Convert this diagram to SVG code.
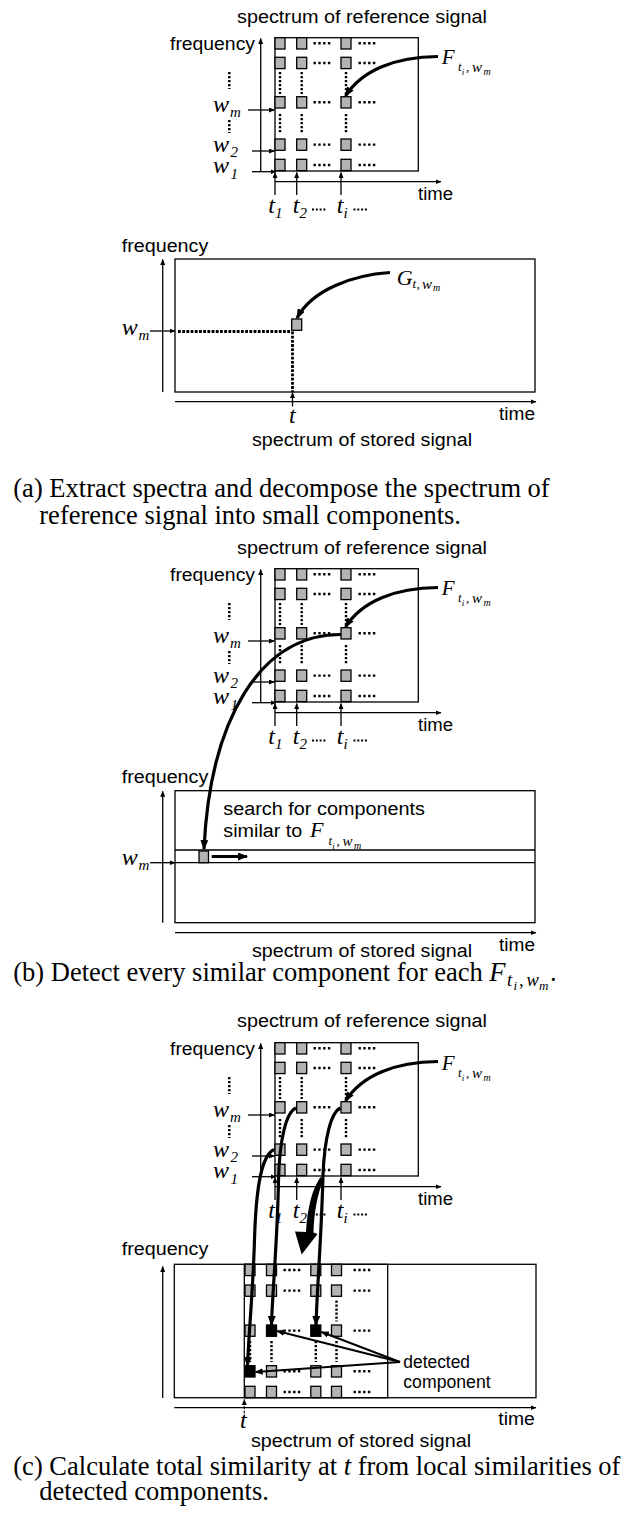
<svg xmlns="http://www.w3.org/2000/svg" width="639" height="1521" viewBox="0 0 639 1521">
<defs>
<style>
.s{font-family:"Liberation Sans",Arial,sans-serif;font-size:18px;fill:#000}
.m{font-family:"Liberation Serif","Times New Roman",serif;font-style:italic;fill:#000}
.cap{font-family:"Liberation Serif","Times New Roman",serif;font-size:26.5px;fill:#000}
.box{fill:none;stroke:#000;stroke-width:1.3}
.sq{fill:#b3b3b3;stroke:#000;stroke-width:1.3}
.sqb{fill:#000;stroke:#000;stroke-width:1.3}
.hd{stroke:#000;stroke-width:2.4;stroke-dasharray:2.4 2.4;fill:none}
.vd{stroke:#000;stroke-width:2.4;stroke-dasharray:2.2 1.8;fill:none}
.td{stroke:#000;stroke-width:2;stroke-dasharray:2 1.8;fill:none}
.ax{stroke:#000;stroke-width:1.3;fill:none;marker-end:url(#ah)}
.cv{stroke:#000;stroke-width:3.2;fill:none;marker-end:url(#bh)}
.dl{stroke:#000;stroke-width:2;fill:none;marker-end:url(#mh)}
.pd{stroke:#000;stroke-width:2.8;stroke-dasharray:2.8 1.4;fill:none}
.tk{fill:#000;stroke:none}
</style>
<marker id="ah" viewBox="0 0 12 10" refX="11" refY="5" markerWidth="6" markerHeight="5" markerUnits="userSpaceOnUse" orient="auto"><path d="M0,0 L12,5 L0,10 z"/></marker>
<marker id="bh" viewBox="0 0 10 8" refX="9" refY="4" markerWidth="10" markerHeight="8" markerUnits="userSpaceOnUse" orient="auto"><path d="M0,0 L10,4 L0,8 z"/></marker>
<marker id="mh" viewBox="0 0 10 8" refX="9" refY="4" markerWidth="8" markerHeight="6.4" markerUnits="userSpaceOnUse" orient="auto"><path d="M0,0 L10,4 L0,8 z"/></marker>
</defs>
<rect width="639" height="1521" fill="#fff"/>

<!-- ===== Reference spectrum panel (a) ===== -->
<g id="ref-a">
<text class="s" x="237" y="23" textLength="250" lengthAdjust="spacingAndGlyphs">spectrum of reference signal</text>
<text class="s" x="170" y="50" textLength="85" lengthAdjust="spacingAndGlyphs">frequency</text>
<rect class="box" x="275" y="37.7" width="143.3" height="133.3"/>
<rect class="sq" x="275" y="37.7" width="10" height="11.3"/><rect class="sq" x="296.7" y="37.7" width="10" height="11.3"/><rect class="sq" x="341" y="37.7" width="10" height="11.3"/>
<rect class="sq" x="275" y="57.3" width="10" height="11.3"/><rect class="sq" x="296.7" y="57.3" width="10" height="11.3"/><rect class="sq" x="341" y="57.3" width="10" height="11.3"/>
<rect class="sq" x="275" y="96.7" width="10" height="11.3"/><rect class="sq" x="296.7" y="96.7" width="10" height="11.3"/><rect class="sq" x="341" y="96.7" width="10" height="11.3"/>
<rect class="sq" x="275" y="139" width="10" height="11.3"/><rect class="sq" x="296.7" y="139" width="10" height="11.3"/><rect class="sq" x="341" y="139" width="10" height="11.3"/>
<rect class="sq" x="275" y="159.3" width="10" height="11.3"/><rect class="sq" x="296.7" y="159.3" width="10" height="11.3"/><rect class="sq" x="341" y="159.3" width="10" height="11.3"/>
<path class="hd" d="M313.5 43.3H332M358.5 43.3H377M313.5 63H332M358.5 63H377M313.5 102.3H332M358.5 102.3H377M313.5 144.6H332M358.5 144.6H377M313.5 165H332M358.5 165H377"/>
<path class="vd" d="M280 72V94M301.7 72V94M346 72V94M280 114V134M301.7 114V134M346 114V134M229.3 72V89M229.3 120V133"/>
<path class="ax" d="M260.7 172V38.5"/>
<path class="ax" d="M275 181.7H441"/>
<path class="ax" d="M248 110H274.5"/>
<path class="ax" d="M252 151H274.5"/>
<path class="ax" d="M252 171.7H276"/>
<path class="ax" d="M275 195V172.5"/>
<path class="ax" d="M296.7 195V172.5"/>
<path class="ax" d="M341 195V172.5"/>
<text class="s" x="418" y="200" textLength="35" lengthAdjust="spacingAndGlyphs">time</text>
<text class="m"><tspan x="213" y="111.7" font-size="24">w</tspan><tspan x="230" y="116.5" font-size="15">m</tspan></text>
<text class="m"><tspan x="213" y="151.5" font-size="24">w</tspan><tspan x="230.5" y="156.5" font-size="15">2</tspan></text>
<text class="m"><tspan x="213" y="173" font-size="24">w</tspan><tspan x="230.5" y="179" font-size="15">1</tspan></text>
<text class="m"><tspan x="268.3" y="213.3" font-size="24">t</tspan><tspan x="275" y="218.3" font-size="15">1</tspan></text>
<text class="m"><tspan x="292.7" y="213.3" font-size="24">t</tspan><tspan x="299.4" y="218.3" font-size="15">2</tspan></text>
<text class="m"><tspan x="336.7" y="213.3" font-size="24">t</tspan><tspan x="343.4" y="218.3" font-size="15">i</tspan></text>
<path class="td" d="M312 209.5H327M353.5 209.5H368.5"/>
<text class="m"><tspan x="441.7" y="64" font-size="21">F</tspan><tspan x="458" y="71" font-size="13">t</tspan><tspan x="461.8" y="74.5" font-size="9">i</tspan><tspan x="466" y="71" font-size="13">,</tspan><tspan x="472" y="71.5" font-size="15">w</tspan><tspan x="483.5" y="74.5" font-size="10">m</tspan></text>
</g>

<!-- ===== Stored spectrum panel (a) ===== -->
<g id="stored-a">
<text class="s" x="121.7" y="251.7" textLength="86.6" lengthAdjust="spacingAndGlyphs">frequency</text>
<path class="ax" d="M162.7 392V259.5"/>
<rect class="box" x="175" y="259" width="360" height="133"/>
<path class="ax" d="M175 401.7H536"/>
<text class="s" x="499" y="420" textLength="36" lengthAdjust="spacingAndGlyphs">time</text>
<text class="m"><tspan x="121.7" y="335" font-size="24">w</tspan><tspan x="138.5" y="339.5" font-size="15">m</tspan></text>
<path class="ax" d="M150 331H175"/>
<path class="pd" d="M178 331.5H291.7M292.5 331.5V392"/>
<rect class="sq" x="291.7" y="319" width="10" height="11.3"/>
<path class="ax" d="M292.5 406.5V392.5"/>
<text class="m" x="289" y="423" font-size="24">t</text>
<text class="m"><tspan x="396.7" y="285" font-size="22">G</tspan><tspan x="412.5" y="288" font-size="13">t</tspan><tspan x="416.5" y="288" font-size="13">,</tspan><tspan x="422" y="288.5" font-size="15">w</tspan><tspan x="433" y="291" font-size="10">m</tspan></text>
<text class="s" x="252" y="446" textLength="220" lengthAdjust="spacingAndGlyphs">spectrum of stored signal</text>
</g>

<g id="caption-a">
<text class="cap" x="13.3" y="497">(a) Extract spectra and decompose the spectrum of</text>
<text class="cap" x="39.3" y="524">reference signal into small components.</text>
</g>

<!-- ===== Reference spectrum panel (b) ===== -->
<g id="ref-b" transform="translate(0,531)">
<text class="s" x="237" y="23" textLength="250" lengthAdjust="spacingAndGlyphs">spectrum of reference signal</text>
<text class="s" x="170" y="50" textLength="85" lengthAdjust="spacingAndGlyphs">frequency</text>
<rect class="box" x="275" y="37.7" width="143.3" height="133.3"/>
<rect class="sq" x="275" y="37.7" width="10" height="11.3"/><rect class="sq" x="296.7" y="37.7" width="10" height="11.3"/><rect class="sq" x="341" y="37.7" width="10" height="11.3"/>
<rect class="sq" x="275" y="57.3" width="10" height="11.3"/><rect class="sq" x="296.7" y="57.3" width="10" height="11.3"/><rect class="sq" x="341" y="57.3" width="10" height="11.3"/>
<rect class="sq" x="275" y="96.7" width="10" height="11.3"/><rect class="sq" x="296.7" y="96.7" width="10" height="11.3"/><rect class="sq" x="341" y="96.7" width="10" height="11.3"/>
<rect class="sq" x="275" y="139" width="10" height="11.3"/><rect class="sq" x="296.7" y="139" width="10" height="11.3"/><rect class="sq" x="341" y="139" width="10" height="11.3"/>
<rect class="sq" x="275" y="159.3" width="10" height="11.3"/><rect class="sq" x="296.7" y="159.3" width="10" height="11.3"/><rect class="sq" x="341" y="159.3" width="10" height="11.3"/>
<path class="hd" d="M313.5 43.3H332M358.5 43.3H377M313.5 63H332M358.5 63H377M313.5 102.3H332M358.5 102.3H377M313.5 144.6H332M358.5 144.6H377M313.5 165H332M358.5 165H377"/>
<path class="vd" d="M280 72V94M301.7 72V94M346 72V94M280 114V134M301.7 114V134M346 114V134M229.3 72V89M229.3 120V133"/>
<path class="ax" d="M260.7 172V38.5"/>
<path class="ax" d="M275 181.7H441"/>
<path class="ax" d="M248 110H274.5"/>
<path class="ax" d="M252 151H274.5"/>
<path class="ax" d="M252 171.7H276"/>
<path class="ax" d="M275 195V172.5"/>
<path class="ax" d="M296.7 195V172.5"/>
<path class="ax" d="M341 195V172.5"/>
<text class="s" x="418" y="200" textLength="35" lengthAdjust="spacingAndGlyphs">time</text>
<text class="m"><tspan x="213" y="111.7" font-size="24">w</tspan><tspan x="230" y="116.5" font-size="15">m</tspan></text>
<text class="m"><tspan x="213" y="151.5" font-size="24">w</tspan><tspan x="230.5" y="156.5" font-size="15">2</tspan></text>
<text class="m"><tspan x="213" y="173" font-size="24">w</tspan><tspan x="230.5" y="179" font-size="15">1</tspan></text>
<text class="m"><tspan x="268.3" y="213.3" font-size="24">t</tspan><tspan x="275" y="218.3" font-size="15">1</tspan></text>
<text class="m"><tspan x="292.7" y="213.3" font-size="24">t</tspan><tspan x="299.4" y="218.3" font-size="15">2</tspan></text>
<text class="m"><tspan x="336.7" y="213.3" font-size="24">t</tspan><tspan x="343.4" y="218.3" font-size="15">i</tspan></text>
<path class="td" d="M312 209.5H327M353.5 209.5H368.5"/>
<text class="m"><tspan x="441.7" y="64" font-size="21">F</tspan><tspan x="458" y="71" font-size="13">t</tspan><tspan x="461.8" y="74.5" font-size="9">i</tspan><tspan x="466" y="71" font-size="13">,</tspan><tspan x="472" y="71.5" font-size="15">w</tspan><tspan x="483.5" y="74.5" font-size="10">m</tspan></text>
</g>

<!-- ===== Stored spectrum panel (b) ===== -->
<g id="stored-b">
<text class="s" x="121.7" y="783.3" textLength="86.6" lengthAdjust="spacingAndGlyphs">frequency</text>
<path class="ax" d="M162.7 922.7V791.2"/>
<rect class="box" x="175" y="790.7" width="360" height="132"/>
<path class="box" d="M175 850H535M175 862.7H535"/>
<rect class="sq" x="199" y="851" width="9.5" height="11.7"/>
<text class="m"><tspan x="121.7" y="865" font-size="24">w</tspan><tspan x="138.5" y="869.5" font-size="15">m</tspan></text>
<path class="ax" d="M150 862.7H175"/>
<text class="s" x="223.3" y="815" textLength="201.7" lengthAdjust="spacingAndGlyphs">search for components</text>
<text class="s" x="223.3" y="836.7" textLength="79" lengthAdjust="spacingAndGlyphs">similar to</text>
<text class="m"><tspan x="310" y="836.7" font-size="22">F</tspan><tspan x="328.5" y="845" font-size="13">t</tspan><tspan x="332.3" y="848.5" font-size="9">i</tspan><tspan x="336.5" y="845" font-size="13">,</tspan><tspan x="342.5" y="845.5" font-size="15">w</tspan><tspan x="354" y="848.5" font-size="10">m</tspan></text>
<path class="ax" d="M175 932.7H536"/>
<text class="s" x="499" y="950.5" textLength="36" lengthAdjust="spacingAndGlyphs">time</text>
<text class="s" x="252" y="956.5" textLength="220" lengthAdjust="spacingAndGlyphs">spectrum of stored signal</text>
</g>

<g id="caption-b">
<text class="cap" x="13.3" y="980.5">(b) Detect every similar component for each <tspan class="m" font-size="26.5">F</tspan></text>
<text class="m"><tspan x="507" y="985.5" font-size="18.5">t</tspan><tspan x="513.5" y="989.5" font-size="13">i</tspan><tspan x="519" y="985.5" font-size="18.5">,</tspan><tspan x="526.5" y="985.5" font-size="18.5">w</tspan><tspan x="539" y="989.5" font-size="13">m</tspan></text>
<text class="cap" x="550" y="980.5">.</text>
</g>

<!-- ===== Reference spectrum panel (c) ===== -->
<g id="ref-c" transform="translate(0,1005)">
<text class="s" x="237" y="22" textLength="250" lengthAdjust="spacingAndGlyphs">spectrum of reference signal</text>
<text class="s" x="170" y="50" textLength="85" lengthAdjust="spacingAndGlyphs">frequency</text>
<rect class="box" x="275" y="37.7" width="143.3" height="133.3"/>
<rect class="sq" x="275" y="37.7" width="10" height="11.3"/><rect class="sq" x="296.7" y="37.7" width="10" height="11.3"/><rect class="sq" x="341" y="37.7" width="10" height="11.3"/>
<rect class="sq" x="275" y="57.3" width="10" height="11.3"/><rect class="sq" x="296.7" y="57.3" width="10" height="11.3"/><rect class="sq" x="341" y="57.3" width="10" height="11.3"/>
<rect class="sq" x="275" y="96.7" width="10" height="11.3"/><rect class="sq" x="296.7" y="96.7" width="10" height="11.3"/><rect class="sq" x="341" y="96.7" width="10" height="11.3"/>
<rect class="sq" x="275" y="139" width="10" height="11.3"/><rect class="sq" x="296.7" y="139" width="10" height="11.3"/><rect class="sq" x="341" y="139" width="10" height="11.3"/>
<rect class="sq" x="275" y="159.3" width="10" height="11.3"/><rect class="sq" x="296.7" y="159.3" width="10" height="11.3"/><rect class="sq" x="341" y="159.3" width="10" height="11.3"/>
<path class="hd" d="M313.5 43.3H332M358.5 43.3H377M313.5 63H332M358.5 63H377M313.5 102.3H332M358.5 102.3H377M313.5 144.6H332M358.5 144.6H377M313.5 165H332M358.5 165H377"/>
<path class="vd" d="M280 72V94M301.7 72V94M346 72V94M280 114V134M301.7 114V134M346 114V134M229.3 72V89M229.3 120V133"/>
<path class="ax" d="M260.7 172V38.5"/>
<path class="ax" d="M275 181.7H441"/>
<path class="ax" d="M248 110H274.5"/>
<path class="ax" d="M252 151H274.5"/>
<path class="ax" d="M252 171.7H276"/>
<path class="ax" d="M275 195V172.5"/>
<path class="ax" d="M296.7 195V172.5"/>
<path class="ax" d="M341 195V172.5"/>
<text class="s" x="418" y="200" textLength="35" lengthAdjust="spacingAndGlyphs">time</text>
<text class="m"><tspan x="213" y="111.7" font-size="24">w</tspan><tspan x="230" y="116.5" font-size="15">m</tspan></text>
<text class="m"><tspan x="213" y="151.5" font-size="24">w</tspan><tspan x="230.5" y="156.5" font-size="15">2</tspan></text>
<text class="m"><tspan x="213" y="173" font-size="24">w</tspan><tspan x="230.5" y="179" font-size="15">1</tspan></text>
<text class="m"><tspan x="268.3" y="213.3" font-size="24">t</tspan><tspan x="275" y="218.3" font-size="15">1</tspan></text>
<text class="m"><tspan x="292.7" y="213.3" font-size="24">t</tspan><tspan x="299.4" y="218.3" font-size="15">2</tspan></text>
<text class="m"><tspan x="336.7" y="213.3" font-size="24">t</tspan><tspan x="343.4" y="218.3" font-size="15">i</tspan></text>
<path class="td" d="M312 209.5H327M353.5 209.5H368.5"/>
<text class="m"><tspan x="441.7" y="65" font-size="21">F</tspan><tspan x="458" y="72" font-size="13">t</tspan><tspan x="461.8" y="75.5" font-size="9">i</tspan><tspan x="466" y="72" font-size="13">,</tspan><tspan x="472" y="72.5" font-size="15">w</tspan><tspan x="483.5" y="75.5" font-size="10">m</tspan></text>
</g>

<!-- ===== Stored spectrum panel (c) ===== -->
<g id="stored-c">
<text class="s" x="121.7" y="1255" textLength="86.6" lengthAdjust="spacingAndGlyphs">frequency</text>
<path class="ax" d="M162.7 1398V1266.5"/>
<rect class="box" x="174.3" y="1264.3" width="361.7" height="133.4"/>
<rect class="box" x="244.3" y="1264.3" width="143.4" height="133.4"/>
<rect class="sq" x="245" y="1264.3" width="10" height="11.3"/><rect class="sq" x="266.5" y="1264.3" width="10" height="11.3"/><rect class="sq" x="310.8" y="1264.3" width="10" height="11.3"/><rect class="sq" x="331.5" y="1264.3" width="10" height="11.3"/>
<rect class="sq" x="245" y="1285" width="10" height="11.3"/><rect class="sq" x="266.5" y="1285" width="10" height="11.3"/><rect class="sq" x="310.8" y="1285" width="10" height="11.3"/><rect class="sq" x="331.5" y="1285" width="10" height="11.3"/>
<rect class="sq" x="245" y="1325" width="10" height="11.3"/><rect class="sqb" x="266.5" y="1325" width="10" height="11.3"/><rect class="sqb" x="310.8" y="1325" width="10" height="11.3"/><rect class="sq" x="331.5" y="1325" width="10" height="11.3"/>
<rect class="sqb" x="245" y="1365.7" width="10" height="11.3"/><rect class="sq" x="266.5" y="1365.7" width="10" height="11.3"/><rect class="sq" x="310.8" y="1365.7" width="10" height="11.3"/><rect class="sq" x="331.5" y="1365.7" width="10" height="11.3"/>
<rect class="sq" x="245" y="1386.3" width="10" height="11.3"/><rect class="sq" x="266.5" y="1386.3" width="10" height="11.3"/><rect class="sq" x="310.8" y="1386.3" width="10" height="11.3"/><rect class="sq" x="331.5" y="1386.3" width="10" height="11.3"/>
<path class="hd" d="M283.5 1270H302M353.5 1270H372M283.5 1290.6H302M353.5 1290.6H372M283.5 1330.6H302M353.5 1330.6H372M283.5 1371.3H302M353.5 1371.3H372M283.5 1392H302M353.5 1392H372"/>
<path class="vd" d="M336.5 1300.5V1321.5M271.5 1341V1362M315.8 1341V1362M336.5 1341V1362M250 1341V1362"/>
<path class="ax" d="M174.3 1407.7H536"/>
<text class="s" x="498.3" y="1425" textLength="36.5" lengthAdjust="spacingAndGlyphs">time</text>
<path d="M244.3 1418V1399.5" stroke="#000" stroke-width="1.1" stroke-dasharray="3 1.5" fill="none" marker-end="url(#ah)"/>
<text class="m" x="240" y="1428.3" font-size="24">t</text>
<text class="s" x="403.3" y="1368.3" textLength="66.7" lengthAdjust="spacingAndGlyphs">detected</text>
<text class="s" x="403.3" y="1388.3" textLength="87.3" lengthAdjust="spacingAndGlyphs">component</text>
<text class="s" x="251" y="1447" textLength="220" lengthAdjust="spacingAndGlyphs">spectrum of stored signal</text>
</g>

<g id="caption-c">
<text class="cap" x="13.3" y="1474.7">(c) Calculate total similarity at <tspan class="m">t</tspan> from local similarities of</text>
<text class="cap" x="39.3" y="1500">detected components.</text>
</g>

<!-- ===== Connectors ===== -->
<g id="connectors">
<path class="cv" d="M438 56.5C395 57 362 70 345.5 96"/>
<path class="cv" d="M390 272.5C352 275 312 290 297 318"/>
<path class="cv" d="M438 587.5C395 588 362 601 345.5 627"/>
<path class="cv" d="M341 634.5C260 634 210 720 204 849"/>
<path class="cv" d="M211.7 856.5H247"/>
<path class="cv" d="M438 1061.5C395 1062 362 1075 345.5 1101"/>
<path class="cv" d="M274 1149.5C262 1155 256 1185 254.5 1240C253 1290 249 1330 247.5 1366"/>
<path class="cv" d="M296 1108C286 1112 279.5 1140 278.5 1180C277.5 1240 272.5 1290 271.5 1325"/>
<path class="cv" d="M340.5 1108C331 1112 324.5 1138 323 1175C321.5 1235 317 1290 316 1325"/>
<path class="tk" d="M320.5 1177C313 1188 307.5 1205 306 1232L295 1231.5L301.7 1254.5L317.5 1234L313.5 1232.5C314 1212 317.5 1195 323 1180Z"/>
<path class="dl" d="M400 1362L277 1331"/>
<path class="dl" d="M400 1362L321.5 1332"/>
<path class="dl" d="M400 1362L255.5 1372"/>
</g>
</svg>
